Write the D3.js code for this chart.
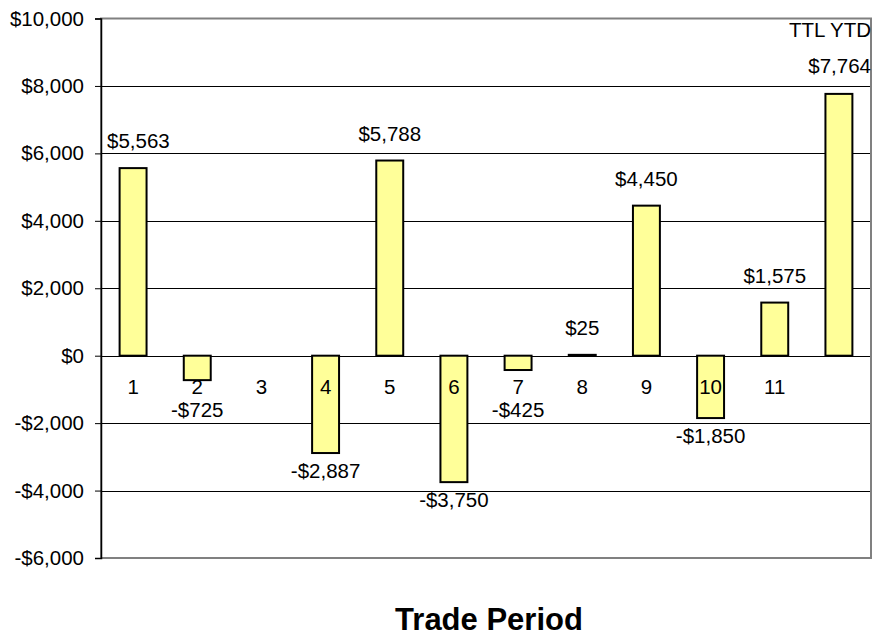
<!DOCTYPE html>
<html>
<head>
<meta charset="utf-8">
<script src="https://cdn.jsdelivr.net/npm/d3@7"></script>
<style>
  html, body { margin: 0; padding: 0; background: #fff; }
  svg { display: block; font-family: Arial, "Liberation Sans", sans-serif; }
</style>
</head>
<body>
<svg id="chart" width="872" height="638"></svg>
<script>
const categories = ["1","2","3","4","5","6","7","8","9","10","11",""];
const values = [5563, -725, null, -2887, 5788, -3750, -425, 25, 4450, -1850, 1575, 7764];
const valueLabels = ["$5,563","-$725","","-$2,887","$5,788","-$3,750","-$425","$25","$4,450","-$1,850","$1,575","$7,764"];
const yTicks = [10000, 8000, 6000, 4000, 2000, 0, -2000, -4000, -6000];
const totalLabel = "TTL YTD";
const xTitle = "Trade Period";

const svg = d3.select("#chart");
const W = 872, H = 638;
const plot = { left: 101, right: 871, top: 18.5, bottom: 558 };

const x = d3.scaleBand()
  .domain(categories.map((c, i) => i))
  .range([plot.left, plot.right])
  .paddingInner(0.58)
  .paddingOuter(0.29);

const y = d3.scaleLinear().domain([-6000, 10000]).range([plot.bottom, plot.top]);

const fmt = v => (v < 0 ? "-$" : "$") + d3.format(",")(Math.abs(v));

// gridlines
svg.append("g")
  .selectAll("line")
  .data(yTicks.filter(t => t !== 10000 && t !== -6000))
  .join("line")
  .attr("x1", plot.left).attr("x2", plot.right)
  .attr("y1", d => Math.round(y(d)) + 0.5).attr("y2", d => Math.round(y(d)) + 0.5)
  .attr("stroke", "#000").attr("stroke-width", 1);

// plot border (gray)
svg.append("rect")
  .attr("x", plot.left).attr("y", plot.top)
  .attr("width", plot.right - plot.left).attr("height", plot.bottom - plot.top)
  .attr("fill", "none").attr("stroke", "#808080").attr("stroke-width", 2);

// y axis
const yAxis = d3.axisLeft(y).tickValues(yTicks).tickFormat(fmt).tickSize(6).tickPadding(11);
const yg = svg.append("g").attr("transform", `translate(${plot.left},0)`).call(yAxis);
yg.select(".domain").attr("stroke", "#000").attr("stroke-width", 1.5);
yg.selectAll(".tick line").attr("stroke", "#000");
yg.selectAll(".tick text")
  .attr("font-size", "20.5px").attr("fill", "#000")
  .attr("font-family", "Arial, 'Liberation Sans', sans-serif");

// bars
svg.append("g")
  .selectAll("rect")
  .data(values.map((v, i) => ({ v, i })).filter(d => d.v !== null))
  .join("rect")
  .attr("x", d => x(d.i))
  .attr("width", x.bandwidth())
  .attr("y", d => Math.min(y(d.v), y(0)))
  .attr("height", d => Math.abs(y(d.v) - y(0)))
  .attr("fill", "#FFFF99")
  .attr("stroke", "#000")
  .attr("stroke-width", 2);

// category labels
svg.append("g")
  .selectAll("text")
  .data(categories)
  .join("text")
  .attr("x", (d, i) => x(i) + x.bandwidth() / 2)
  .attr("y", y(0) + 38)
  .attr("text-anchor", "middle")
  .attr("font-size", "20.5px")
  .attr("fill", "#000")
  .text(d => d);

// value labels (kept inside the plot area)
svg.append("g")
  .selectAll("text")
  .data(values.map((v, i) => ({ v, i, t: valueLabels[i] })).filter(d => d.v !== null && d.i < categories.length - 1))
  .join("text")
  .attr("y", d => d.v >= 0 ? y(d.v) - 20 : Math.max(y(d.v) + 25, y(0) + 61))
  .attr("text-anchor", "middle")
  .attr("font-size", "20.5px")
  .attr("fill", "#000")
  .text(d => d.t)
  .each(function(d) {
    const w = this.getComputedTextLength();
    const cx = Math.max(x(d.i) + x.bandwidth() / 2, plot.left + 6 + w / 2);
    d3.select(this).attr("x", cx);
  });

// total labels (right-aligned at edge)
const last = values.length - 1;
svg.append("text")
  .attr("x", W - 1).attr("y", y(values[last]) - 21)
  .attr("text-anchor", "end").attr("font-size", "20.5px").attr("fill", "#000")
  .text(valueLabels[last]);
svg.append("text")
  .attr("x", W - 1).attr("y", y(values[last]) - 57)
  .attr("text-anchor", "end").attr("font-size", "20.5px").attr("fill", "#000")
  .text(totalLabel);

// x axis title
svg.append("text")
  .attr("x", (plot.left + plot.right) / 2 + 3)
  .attr("y", 630)
  .attr("text-anchor", "middle")
  .attr("font-size", "31px")
  .attr("font-weight", "bold")
  .attr("fill", "#000")
  .text(xTitle);
</script>
</body>
</html>
